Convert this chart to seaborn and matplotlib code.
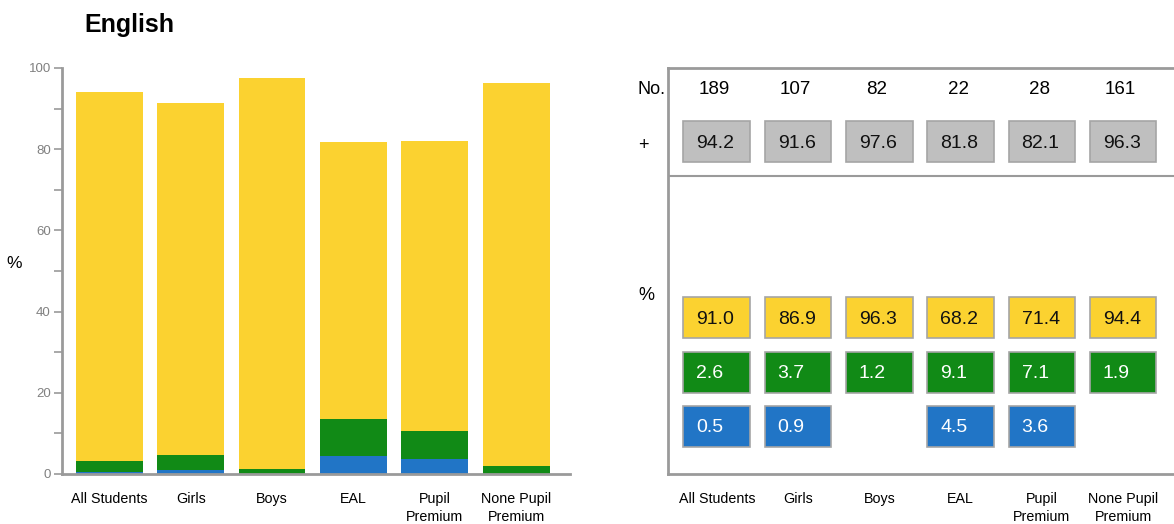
import matplotlib
matplotlib.use("Agg")
import matplotlib.pyplot as plt
import seaborn as sns
import numpy as np

# data
categories = ["All Students", "Girls", "Boys", "EAL", "Pupil\nPremium", "None Pupil\nPremium"]
counts = [189, 107, 82, 22, 28, 161]
plus_pct = [94.2, 91.6, 97.6, 81.8, 82.1, 96.3]
yellow_pct = [91.0, 86.9, 96.3, 68.2, 71.4, 94.4]
green_pct = [2.6, 3.7, 1.2, 9.1, 7.1, 1.9]
blue_pct = [0.5, 0.9, 0.0, 4.5, 3.6, 0.0]

YELLOW = "#fbd230"
GREEN = "#118a16"
BLUE = "#2175c6"
GREY = "#bfbfbf"
AXIS = "#9a9a9a"

sns.set_style("white")
plt.rcParams["font.family"] = ["Liberation Sans", "DejaVu Sans"]
plt.rcParams["text.color"] = "black"
plt.rcParams["xtick.color"] = "black"

W, H = 1174, 524
fig = plt.figure(figsize=(W / 100, H / 100), dpi=100)

def box(x0, y0, x1, y1):
    # pixel box (top-left origin) -> figure fraction rect
    return [x0 / W, 1 - y1 / H, (x1 - x0) / W, (y1 - y0) / H]

# ---- left: stacked bars ----
ax = fig.add_axes(box(62, 68, 570, 474))
blue = np.array(blue_pct)
green_top = blue + np.array(green_pct)
total = green_top + np.array(yellow_pct)
for vals, col in [(total, YELLOW), (green_top, GREEN), (blue, BLUE)]:
    sns.barplot(x=categories, y=vals, color=col, saturation=1, width=0.82,
                linewidth=0, ax=ax)
ax.set_xlim(-0.58, 5.66)
ax.set_ylim(0, 100)
ax.set_yticks(range(0, 101, 20))
ax.set_yticks(range(10, 100, 20), minor=True)
ax.tick_params(axis="y", which="both", left=True, length=6, width=1.2, color=AXIS,
               labelsize=9.5, labelcolor="#808080", pad=2)
ax.tick_params(axis="x", length=0, labelsize=10.3, labelcolor="black", pad=13)
for lbl in ax.get_xticklabels():
    lbl.set_linespacing(1.4)
    lbl.set_verticalalignment("top")
for s in ["top", "right"]:
    ax.spines[s].set_visible(False)
for s in ["left", "bottom"]:
    ax.spines[s].set_color(AXIS)
    ax.spines[s].set_linewidth(2)
ax.set_xlabel("")
ax.set_ylabel("%", rotation=0, fontsize=12.5, color="black")
ax.yaxis.set_label_coords(-0.095, 0.5)
fig.text(84 / W, 1 - 25 / H, "English", fontsize=18, fontweight="bold", va="center", ha="left")

# ---- right: value panel ----
ax2 = fig.add_axes(box(668, 68, 1180, 474))
x = np.arange(len(categories))
ax2.set_xlim(-0.60, 5.70)
ax2.set_ylim(474, 68)
bw = 0.82
rows = [
    (plus_pct, 121, GREY, "#111111"),
    (yellow_pct, 297, YELLOW, "#111111"),
    (green_pct, 352, GREEN, "white"),
    (blue_pct, 406, BLUE, "white"),
]
for vals, top, col, tcol in rows:
    vals = np.array(vals)
    keep = vals > 0
    ax2.bar(x[keep], height=41, bottom=top, width=bw, color=col,
            edgecolor="#a5a5a5", linewidth=1.2)
    for xi, v in zip(x[keep], vals[keep]):
        ax2.text(xi - bw / 2 + 0.16, top + 22, f"{v:.1f}", ha="left", va="center",
                 fontsize=14, color=tcol)
for xi, n in zip(x, counts):
    ax2.text(xi - 0.03, 90, str(n), ha="center", va="center", fontsize=13.5)
ax2.axhline(176, color=AXIS, linewidth=1.5)
for txt, yy in [("No.", 90), ("+", 145), ("%", 295)]:
    ax2.text(-0.97, yy, txt, ha="left", va="center", fontsize=13, clip_on=False)
ax2.set_xticks(x)
ax2.set_xticklabels(categories)
ax2.set_yticks([])
ax2.tick_params(axis="x", length=0, labelsize=10.3, labelcolor="black", pad=13)
for lbl in ax2.get_xticklabels():
    lbl.set_linespacing(1.4)
    lbl.set_verticalalignment("top")
ax2.spines["right"].set_visible(False)
for s in ["left", "top", "bottom"]:
    ax2.spines[s].set_color(AXIS)
    ax2.spines[s].set_linewidth(2)

fig.savefig("out.png", dpi=100)
